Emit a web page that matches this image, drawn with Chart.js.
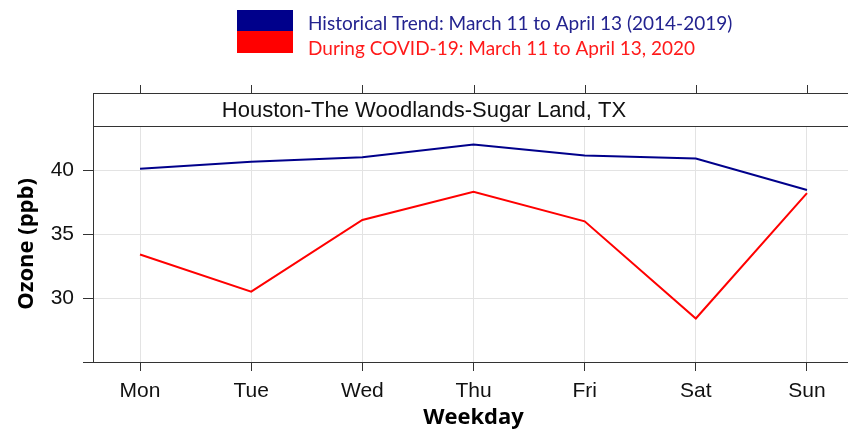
<!DOCTYPE html>
<html>
<head>
<meta charset="utf-8">
<title>Ozone Houston</title>
<script src="https://cdn.jsdelivr.net/npm/chart.js@4/dist/chart.umd.min.js"></script>
<style>
  html, body { margin: 0; padding: 0; background: #fff; overflow: hidden; }
  #wrap { width: 848px; height: 433px; overflow: hidden; }
  canvas { display: block; }
</style>
</head>
<body>
<div id="wrap"><canvas id="canvasozone" width="862" height="433"></canvas></div>
<script>
'use strict'

  ///////////////////////////////
 // values //
///////////////////////////////

const WEEKDAYS = [ 'Mon', 'Tue', 'Wed', 'Thu', 'Fri', 'Sat', 'Sun' ];

const HISTORICAL = [ 40.1, 40.65, 41.0, 42.0, 41.15, 40.9, 38.45 ];
const COVID      = [ 33.4, 30.5, 36.1, 38.3, 36.0, 28.4, 38.2 ];

const Y_TICKS  = [ 25, 30, 35, 40 ];
const Y_LABELS = [ '', '30', '35', '40' ];

const SERIES_LABELS = [
  'Historical Trend: March 11 to April 13 (2014-2019)',
  'During COVID-19: March 11 to April 13, 2020'
];
const SERIES_COLORS = [ '#00008b', '#ff0000' ];
const LEGEND_TEXT_COLORS = [ '#23238f', '#ff1a1a' ];

const PANEL_TITLE = 'Houston-The Woodlands-Sugar Land, TX';

const TICK_FONT = { family: 'Liberation Sans', size: 21 };
const AXIS_TITLE_FONT = { family: 'Open Sans', size: 22, weight: 'bold' };

  //////////////////////////////////////////
 // strip above the panel + legend block //
//////////////////////////////////////////

const stripPlugin = {
  id: 'strip',
  afterDraw: chart => {
    const { ctx, chartArea, scales } = chart;
    const stripTop = 93;

    ctx.save();
    ctx.strokeStyle = '#333';
    ctx.lineWidth = 1;

    // box of the strip
    ctx.strokeRect( chartArea.left + 0.5, stripTop + 0.5,
                    chartArea.right - chartArea.left, chartArea.top - stripTop );

    // small ticks on top of the strip
    WEEKDAYS.forEach( ( day, i ) => {
      const x = Math.round( scales.x.getPixelForValue( i + 1 ) ) + 0.5;
      ctx.beginPath();
      ctx.moveTo( x, stripTop - 8 );
      ctx.lineTo( x, stripTop );
      ctx.stroke();
    });

    ctx.fillStyle = '#111';
    ctx.font = '22px "Liberation Sans"';
    ctx.textAlign = 'center';
    ctx.textBaseline = 'middle';
    ctx.fillText( PANEL_TITLE, 424, ( stripTop + chartArea.top ) / 2 + 1 );

    // legend: two stacked colour boxes and the texts
    ctx.fillStyle = SERIES_COLORS[0];
    ctx.fillRect( 237, 10, 56, 21 );
    ctx.fillStyle = SERIES_COLORS[1];
    ctx.fillRect( 237, 31, 56, 22 );

    ctx.font = '19px Lato';
    ctx.textAlign = 'left';
    ctx.textBaseline = 'alphabetic';
    SERIES_LABELS.forEach( ( label, i ) => {
      ctx.fillStyle = LEGEND_TEXT_COLORS[i];
      ctx.fillText( label, 308, 29.5 + i * 25.5 );
    });

    ctx.restore();
  }
};

  //////////////////////
 // build the chart  //
//////////////////////

const toPoints = values => WEEKDAYS.map( ( day, i ) => ({ x: i + 1, y: values[i] }) );

const showOzoneChart = () => {

  new Chart(
    document.getElementById( 'canvasozone' ),
    {
      type: 'line',
      data: {
        datasets: [
          {
            label: SERIES_LABELS[0],
            data: toPoints( HISTORICAL ),
            borderColor: SERIES_COLORS[0],
            borderWidth: 2,
            pointRadius: 0,
            tension: 0
          },
          {
            label: SERIES_LABELS[1],
            data: toPoints( COVID ),
            borderColor: SERIES_COLORS[1],
            borderWidth: 2,
            pointRadius: 0,
            tension: 0
          }
        ]
      },
      options: {
        responsive: false,
        animation: false,
        layout: { padding: { top: 126, right: 8, left: 0, bottom: 0 } },
        plugins: {
          legend: { display: false },
          tooltip: { enabled: false }
        },
        scales: {
          x: {
            type: 'linear',
            min: 0.577,
            max: 7.423,
            afterBuildTicks: scale => { scale.ticks = WEEKDAYS.map( ( day, i ) => ({ value: i + 1 }) ) },
            afterFit: scale => { scale.height = 71 },
            ticks: {
              callback: ( value, index ) => WEEKDAYS[index],
              autoSkip: false,
              maxRotation: 0,
              padding: 8,
              color: '#111',
              font: TICK_FONT
            },
            grid: { color: '#e3e3e3', tickColor: '#333', tickLength: 9 },
            border: { color: '#333', width: 1 },
            title: {
              display: true,
              text: 'Weekday',
              color: '#000',
              font: AXIS_TITLE_FONT,
              padding: { top: 0, bottom: 2 }
            }
          },
          y: {
            min: 25,
            max: 43.45,
            afterBuildTicks: scale => { scale.ticks = Y_TICKS.map( v => ({ value: v }) ) },
            afterFit: scale => { scale.width = 93 },
            ticks: {
              callback: ( value, index ) => Y_LABELS[index],
              padding: 9,
              color: '#111',
              font: TICK_FONT
            },
            grid: { color: '#e3e3e3', tickColor: '#333', tickLength: 10 },
            border: { color: '#333', width: 1 },
            title: {
              display: true,
              text: 'Ozone (ppb)',
              color: '#000',
              font: AXIS_TITLE_FONT,
              padding: { top: 14, bottom: 0 }
            }
          }
        }
      },
      plugins: [ stripPlugin ]
    }
  );
}

window.onload = () => {
  Promise.all([
    document.fonts.load( '21px "Liberation Sans"' ),
    document.fonts.load( 'bold 22px "Open Sans"' ),
    document.fonts.load( '19px Lato' )
  ]).then( showOzoneChart, showOzoneChart );
}
</script>
</body>
</html>
